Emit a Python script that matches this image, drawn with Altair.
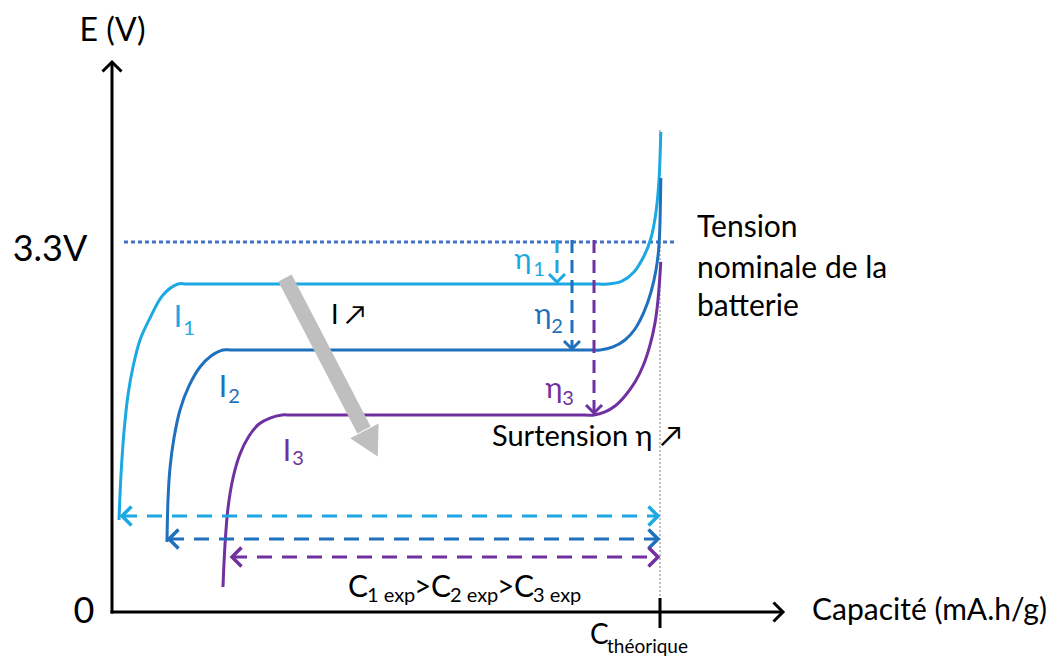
import altair as alt
import pandas as pd

# ---------------- data (capacity in mA.h/g, potential E in V) ----------------
C_TH = 170          # theoretical capacity
E_NOM = 3.3         # nominal voltage

series = ["I1", "I2", "I3"]
palette = ["#1CA8E2", "#1F70BD", "#7030A0"]

# discharge curves
i1_cap = [2.17, 2.79, 3.72, 4.96, 6.51, 8.69, 11.79, 15.82, 20.47, 23.5,
          150.8, 153.87, 158.21, 161.93, 165.04, 167.21, 168.76, 169.69, 170.25]
i1_E   = [0.821, 1.222, 1.606, 1.936, 2.185, 2.426, 2.622, 2.827, 2.925, 2.925,
          2.925, 2.925, 2.952, 3.033, 3.175, 3.336, 3.568, 3.853, 4.281]
i2_cap = [17.06, 17.37, 17.99, 19.23, 21.10, 23.89, 27.30, 30.71, 34.43, 37.5,
          148.3, 151.39, 155.42, 159.14, 162.25, 165.04, 167.21, 168.76, 169.69, 170.25]
i2_E   = [0.624, 0.999, 1.284, 1.552, 1.802, 2.016, 2.185, 2.283, 2.337, 2.337,
          2.337, 2.337, 2.364, 2.426, 2.524, 2.676, 2.854, 3.050, 3.273, 3.871]
i3_cap = [34.43, 35.05, 35.99, 37.54, 39.71, 42.50, 45.60, 49.01, 52.74, 55.8,
          146.5, 149.53, 152.94, 156.04, 159.14, 162.25, 164.73, 166.90, 168.45, 169.38, 170.25]
i3_E   = [0.223, 0.598, 0.928, 1.195, 1.409, 1.570, 1.677, 1.730, 1.757, 1.757,
          1.757, 1.757, 1.784, 1.837, 1.927, 2.051, 2.194, 2.381, 2.578, 2.783, 3.122]

# experimental capacity double arrows
cexp_start = [3.10, 17.68, 37.23]
cexp_end = [169.38, 169.38, 169.38]
cexp_E = [0.856, 0.651, 0.491]

# overpotential arrows (from nominal line down to plateau)
eta_cap = [138.05, 142.70, 149.53]
eta_top = [3.318, 3.318, 3.318]
eta_tip = [2.943, 2.346, 1.775]

# nominal line extent, C_th guide extent
nom_x = [3.72, 175.3]
cth_E = [0.107, 4.30]

# axes
yaxis_top = 4.905
xaxis_end = 208.16
tick_E = [0.125, -0.143]

# big grey "I increases" arrow
grey_start = [53.67, 2.979]
grey_shaft_end = [78.18, 1.623]
grey_head = [80.38, 1.501]

# labels
big_t = ["E (V)", "3.3V", "0"]
big_x = [0.16, -19.23, -8.69]
big_y = [5.182, 3.229, 0.0]

tension_t = ["Tension", "nominale de la", "batterie"]
tension_x = [181.48, 181.48, 181.48]
tension_y = [3.425, 3.059, 2.720]

I_x = [20.47, 34.43, 54.29]
I_y = [2.622, 1.998, 1.427]
Isub_t = ["1", "2", "3"]
Isub_x = [23.89, 37.85, 57.70]
Isub_y = [2.524, 1.918, 1.365]

eta_x = [127.50, 133.71, 137.12]
eta_y = [3.140, 2.650, 1.985]
etasub_x = [132.46, 138.05, 141.46]
etasub_y = [3.050, 2.542, 1.900]

cexp_C_x = [73.21, 98.96, 124.71]
cexp_gt_x = [93.69, 119.44]
cexp_sub_t = ["1 exp", "2 exp", "3 exp"]
cexp_sub_x = [79.11, 104.85, 130.60]
cexp_C_y = 0.214
cexp_sub_y = 0.143

# ---------------- chart ----------------
FONT = "Lato"
W, H = 1041, 650
xs = alt.Scale(domain=[-32.263, 290.678], nice=False, zero=False)
ys = alt.Scale(domain=[-0.4103, 5.3871], nice=False, zero=False)
col = alt.Color("s:N", scale=alt.Scale(domain=series, range=palette), legend=None)
CHEV = "M-1,-1L0,0L-1,1"


def X(f="x"):
    return alt.X(f"{f}:Q", scale=xs, axis=None)


def Y(f="y"):
    return alt.Y(f"{f}:Q", scale=ys, axis=None)


rows = []
for s, cs, es in zip(series, [i1_cap, i2_cap, i3_cap], [i1_E, i2_E, i3_E]):
    for k, (c, e) in enumerate(zip(cs, es)):
        rows.append({"s": s, "k": k, "x": c, "y": e})
curves_df = pd.DataFrame(rows)

curves = alt.Chart(curves_df).mark_line(interpolate="catmull-rom", strokeWidth=3).encode(
    x=X(), y=Y(), color=col, order="k:Q", detail="s:N")

# nominal dotted line
nom = alt.Chart(pd.DataFrame({"x": [nom_x[0]], "x2": [nom_x[1]], "y": [E_NOM]})).mark_rule(
    color="#4472C4", strokeWidth=3, strokeDash=[4, 3]).encode(x=X(), x2="x2:Q", y=Y())

# C_th guide
cth = alt.Chart(pd.DataFrame({"x": [C_TH], "y": [cth_E[0]], "y2": [cth_E[1]]})).mark_rule(
    color="#7F7F7F", strokeWidth=1, strokeDash=[2, 2]).encode(x=X(), y=Y(), y2="y2:Q")

# axes
ax_df = pd.DataFrame({"x": [0, -0.45, C_TH], "x2": [0, xaxis_end, C_TH],
                      "y": [-0.013, 0, tick_E[0]], "y2": [yaxis_top, 0, tick_E[1]]})
axes = alt.Chart(ax_df).mark_rule(color="black", strokeWidth=3).encode(
    x=X(), x2="x2:Q", y=Y(), y2="y2:Q")
ax_up = alt.Chart(pd.DataFrame({"x": [0], "y": [yaxis_top]})).mark_point(
    shape=CHEV, filled=False, size=361, strokeWidth=3, color="black", opacity=1, angle=270
).encode(x=X(), y=Y())
ax_right = alt.Chart(pd.DataFrame({"x": [xaxis_end], "y": [0]})).mark_point(
    shape=CHEV, filled=False, size=361, strokeWidth=3, color="black", opacity=1, angle=0
).encode(x=X(), y=Y())

# experimental capacity arrows
cexp_df = pd.DataFrame({"s": series, "x": cexp_start, "x2": cexp_end, "y": cexp_E})
cexp_lines = alt.Chart(cexp_df).mark_rule(strokeWidth=3, strokeDash=[15, 10]).encode(
    x=X(), x2="x2:Q", y=Y(), color=col)
cexp_left = alt.Chart(cexp_df).mark_point(
    shape=CHEV, filled=False, size=361, strokeWidth=3.5, opacity=1, angle=180
).encode(x=X(), y=Y(), color=col)
cexp_right = alt.Chart(cexp_df).mark_point(
    shape=CHEV, filled=False, size=361, strokeWidth=3.5, opacity=1, angle=0
).encode(x=X("x2"), y=Y(), color=col)

# overpotential arrows
eta_df = pd.DataFrame({"s": series, "x": eta_cap, "y": eta_top, "y2": eta_tip})
eta_lines = alt.Chart(eta_df).mark_rule(strokeWidth=3, strokeDash=[13, 7]).encode(
    x=X(), y=Y(), y2="y2:Q", color=col)
eta_heads = alt.Chart(eta_df).mark_point(
    shape=CHEV, filled=False, size=256, strokeWidth=3, opacity=1, angle=90
).encode(x=X(), y=Y("y2"), color=col)

# grey arrow
grey_df = pd.DataFrame({"x": [grey_start[0]], "y": [grey_start[1]],
                        "x2": [grey_shaft_end[0]], "y2": [grey_shaft_end[1]]})
grey_shaft = alt.Chart(grey_df).mark_rule(color="#BFBFBF", strokeWidth=15, strokeCap="butt").encode(
    x=X(), y=Y(), x2="x2:Q", y2="y2:Q")
grey_tip = alt.Chart(pd.DataFrame({"x": [grey_head[0]], "y": [grey_head[1]]})).mark_point(
    shape="M-1,-0.9L1,-0.9L0,0.9Z", filled=True, size=1024, color="#BFBFBF", opacity=1,
    strokeWidth=0, angle=332.5).encode(x=X(), y=Y())


def text_layer(t, x, y, size, align="center", color="black", s=None):
    d = {"t": t, "x": x, "y": y}
    if s is not None:
        d["s"] = s
    df = pd.DataFrame(d)
    if s is not None:
        m = alt.Chart(df).mark_text(font=FONT, fontSize=size, align=align, baseline="middle")
        return m.encode(x=X(), y=Y(), text="t:N", color=col)
    m = alt.Chart(df).mark_text(font=FONT, fontSize=size, align=align, baseline="middle", color=color)
    return m.encode(x=X(), y=Y(), text="t:N")


texts = [
    text_layer(big_t[:1], big_x[:1], big_y[:1], 32),
    text_layer(big_t[1:], big_x[1:], big_y[1:], 36),
    text_layer(["Capacité (mA.h/g)"], [217.16], [0.009], 30, align="left"),
    text_layer(tension_t, tension_x, tension_y, 30, align="left"),
    text_layer(["Surtension η ↗"], [117.88], [1.561], 29, align="left"),
    text_layer(["I ↗"], [67.94], [2.640], 27, align="left"),
    text_layer(["I", "I", "I"], I_x, I_y, 30, s=series),
    text_layer(Isub_t, Isub_x, Isub_y, 20, s=series),
    text_layer(["η", "η", "η"], eta_x, eta_y, 29, s=series),
    text_layer(Isub_t, etasub_x, etasub_y, 20, s=series),
    text_layer(["C", "C", "C"], cexp_C_x, [cexp_C_y] * 3, 30, align="left"),
    text_layer([">", ">"], cexp_gt_x, [cexp_C_y] * 2, 30, align="left"),
    text_layer(cexp_sub_t, cexp_sub_x, [cexp_sub_y] * 3, 20, align="left"),
    text_layer(["C"], [148.29], [-0.214], 28, align="left"),
    text_layer(["théorique"], [153.56], [-0.312], 19, align="left"),
]

chart = alt.layer(
    nom, cth, axes, ax_up, ax_right, curves, eta_lines, eta_heads,
    cexp_lines, cexp_left, cexp_right, grey_shaft, grey_tip, *texts
).properties(width=W, height=H, padding=0, autosize="none").configure_view(stroke=None)

chart.save("out.html", embed_options={"renderer": "svg", "actions": False})
